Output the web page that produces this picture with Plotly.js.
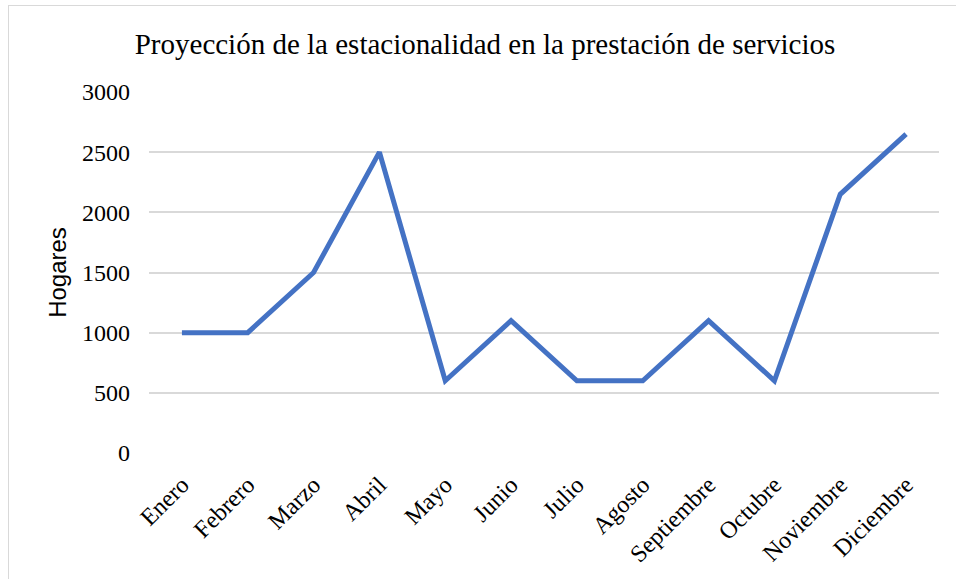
<!DOCTYPE html>
<html>
<head>
<meta charset="utf-8">
<script src="https://cdn.plot.ly/plotly-3.0.1.min.js"></script>
<style>
  body { margin: 0; overflow: hidden; background: #fff; }
  #frame { position: absolute; left: 8px; top: 5px; width: 1000px; height: 1000px; border: 1px solid #d9d9d9; box-sizing: border-box; }
  #draw { position: absolute; left: 0; top: 0; width: 956px; height: 579px; }
</style>
</head>
<body>
<div id="frame"></div>
<div id="draw"></div>
<script>
const meses = ['Enero', 'Febrero', 'Marzo', 'Abril', 'Mayo', 'Junio', 'Julio',
  'Agosto', 'Septiembre', 'Octubre', 'Noviembre', 'Diciembre']
const hogares = [1000, 1000, 1500, 2500, 600, 1100, 600, 600, 1100, 600, 2150, 2650]
const yTicks = [0, 500, 1000, 1500, 2000, 2500, 3000]

const serif = 'Liberation Serif, Times New Roman, serif'

const main = () => {
  const trace = {
    x: meses,
    y: hogares,
    type: 'scatter',
    mode: 'lines',
    line: { color: '#4472c4', width: 5 },
    hoverinfo: 'x+y'
  }

  const layout = {
    width: 956,
    height: 579,
    margin: { l: 149, r: 17, t: 92, b: 126 },
    paper_bgcolor: 'rgba(0,0,0,0)',
    plot_bgcolor: 'rgba(0,0,0,0)',
    showlegend: false,
    title: {
      text: 'Proyección de la estacionalidad en la prestación de servicios',
      font: { family: serif, size: 29, color: '#000' },
      x: 485 / 956, xref: 'container', xanchor: 'center',
      y: 1 - 44 / 579, yref: 'container', yanchor: 'middle'
    },
    xaxis: {
      type: 'category',
      range: [-0.5, 11.5],
      tickangle: -45,
      tickfont: { family: serif, size: 24, color: '#000' },
      ticks: '',
      ticklabelstandoff: 12,
      showgrid: false,
      showline: false,
      zeroline: false
    },
    yaxis: {
      range: [0, 3000],
      tickvals: yTicks,
      tickfont: { family: serif, size: 24, color: '#000' },
      ticks: '',
      ticklabelstandoff: 18,
      gridcolor: '#d9d9d9',
      gridwidth: 1.5,
      zeroline: false,
      showline: false,
      title: {
        text: 'Hogares',
        font: { family: 'Liberation Sans, Arial, sans-serif', size: 24, color: '#000' },
        standoff: 8
      }
    }
  }

  Plotly.newPlot('draw', [trace], layout, { displayModeBar: false })
}

main()
</script>
</body>
</html>
